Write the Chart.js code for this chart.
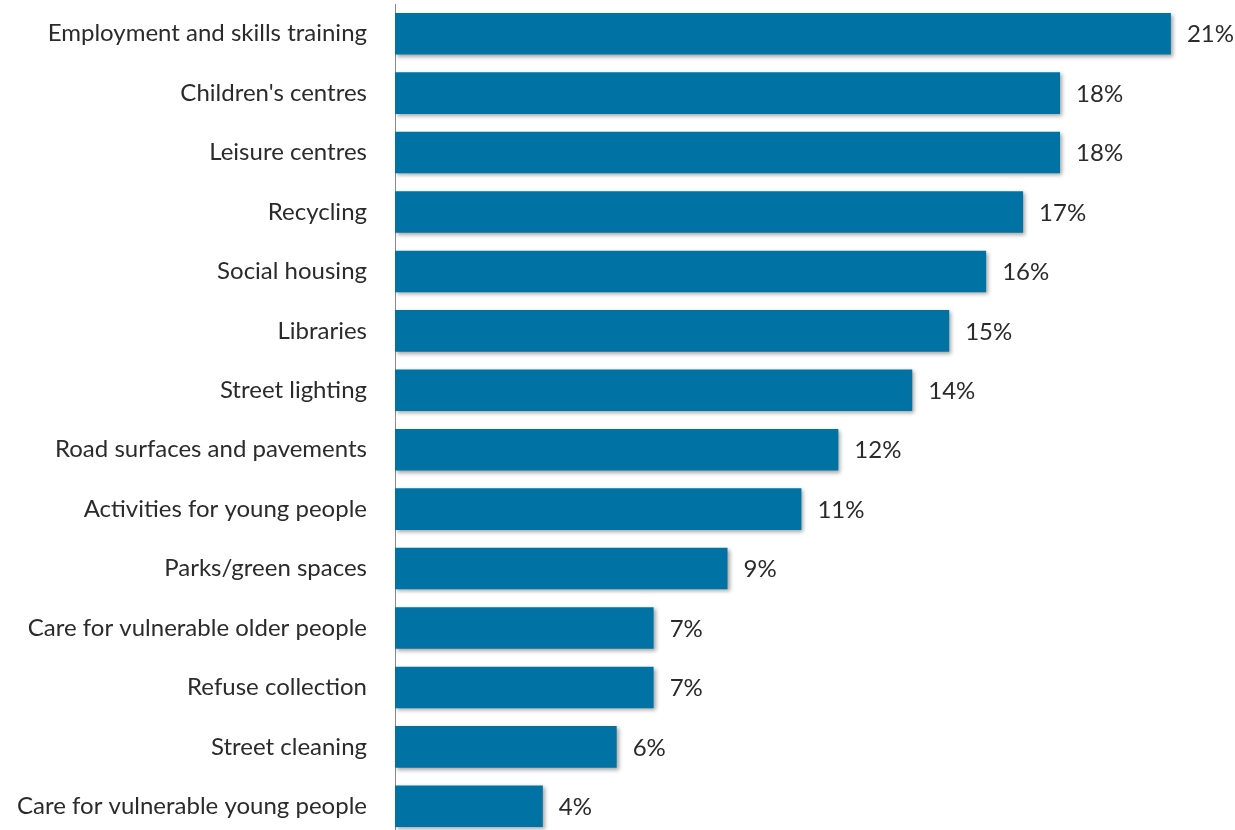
<!DOCTYPE html>
<html>
<head>
<meta charset="utf-8">
<script src="https://cdn.jsdelivr.net/npm/chart.js@4/dist/chart.umd.min.js"></script>
<style>
  html, body { margin: 0; padding: 0; background: #fff; overflow: hidden; }
  #wrap { width: 1235px; height: 840px; }
</style>
</head>
<body>
<div id="wrap"><canvas id="myChart" width="1235" height="840"></canvas></div>
<script>
const services = [
    'Employment and skills training',
    "Children's centres",
    'Leisure centres',
    'Recycling',
    'Social housing',
    'Libraries',
    'Street lighting',
    'Road surfaces and pavements',
    'Activities for young people',
    'Parks/green spaces',
    'Care for vulnerable older people',
    'Refuse collection',
    'Street cleaning',
    'Care for vulnerable young people'
];
const shares = [21, 18, 18, 17, 16, 15, 14, 12, 11, 9, 7, 7, 6, 4];

const BAR_BLUE = 'rgb(0, 114, 163)';
const TEXT = '#2b2b2b';
const FONT = 'Lato, "Open Sans", sans-serif';

// soft shadow under the bars
const barShadow = {
    id: 'barShadow',
    beforeDatasetsDraw(chart) {
        const ctx = chart.ctx;
        ctx.save();
        ctx.shadowColor = 'rgba(0, 0, 0, 0.35)';
        ctx.shadowBlur = 4;
        ctx.shadowOffsetX = 2;
        ctx.shadowOffsetY = 2;
    },
    afterDatasetsDraw(chart) {
        chart.ctx.restore();
    }
};

// percentage text after each bar
const valueLabels = {
    id: 'valueLabels',
    afterDatasetsDraw(chart) {
        const ctx = chart.ctx;
        const meta = chart.getDatasetMeta(0);
        ctx.save();
        ctx.font = '24px ' + FONT;
        ctx.fillStyle = TEXT;
        ctx.textAlign = 'left';
        ctx.textBaseline = 'middle';
        meta.data.forEach((bar, i) => {
            ctx.fillText(shares[i] + '%', bar.x + 16, bar.y + 1);
        });
        ctx.restore();
    }
};

const data = {
    labels: services,
    datasets: [{
        data: shares,
        backgroundColor: BAR_BLUE,
        borderWidth: 0,
        barPercentage: 0.7,
        categoryPercentage: 1.0
    }]
};

const config = {
    type: 'bar',
    data: data,
    options: {
        indexAxis: 'y',
        responsive: false,
        animation: false,
        layout: { padding: { top: 4, bottom: 4, right: 5, left: 0 } },
        plugins: {
            legend: { display: false },
            tooltip: { enabled: false }
        },
        scales: {
            x: {
                display: false,
                min: 0,
                max: 22.6
            },
            y: {
                afterFit(scale) {
                    scale.width = 395;
                    // bars fill the full height, no extra room for label overhang
                    scale.paddingTop = 0;
                    scale.paddingBottom = 0;
                },
                grid: { display: false, drawTicks: false },
                border: { display: true, color: '#8a8a8a', width: 1 },
                ticks: {
                    color: TEXT,
                    padding: 28,
                    font: { family: FONT, size: 24 }
                }
            }
        }
    },
    plugins: [barShadow, valueLabels]
};

const myChart = new Chart(document.getElementById('myChart'), config);
</script>
</body>
</html>
